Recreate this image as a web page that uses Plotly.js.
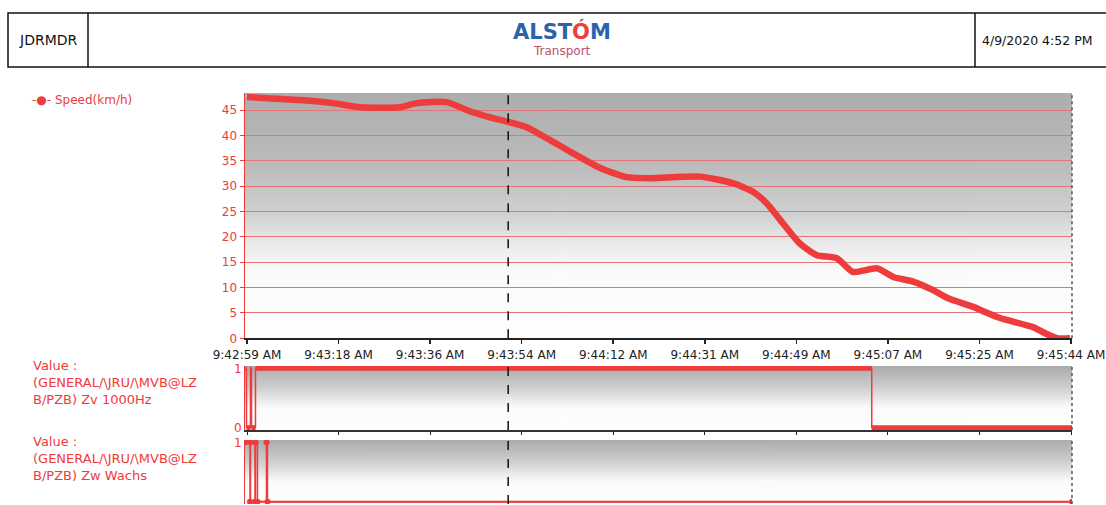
<!DOCTYPE html>
<html>
<head>
<meta charset="utf-8">
<script src="https://cdn.plot.ly/plotly-3.0.1.min.js"></script>
<style>html,body{margin:0;padding:0;background:#fff;}#chart{width:1106px;height:505px;}</style>
</head>
<body>
<div id="chart"></div>
<script>
// ---- data ----
const tickLabels = ["9:42:59 AM","9:43:18 AM","9:43:36 AM","9:43:54 AM","9:44:12 AM","9:44:31 AM","9:44:49 AM","9:45:07 AM","9:45:25 AM","9:45:44 AM"];
const spanSeconds = 165; // 9:42:59 -> 9:45:44
const speedTime = [0, 10.6, 17.2, 22.6, 30.6, 34.0, 40.0, 44.1, 48.7, 52.7, 56.1, 60.7, 65.3, 70.7, 76.1, 80.7, 90.7, 97.3, 101.3, 104.1, 107.3, 110.7, 114.1, 118.1, 121.3, 126.2, 129.4, 133.4, 137.4, 140.4, 145.4, 150.8, 157.4, 159.4, 162.2, 164.8];
const speedKmh = [47.6, 47.0, 46.4, 45.6, 45.6, 46.4, 46.6, 45.0, 43.6, 42.6, 41.6, 39.1, 36.5, 33.6, 31.8, 31.6, 31.9, 30.6, 28.9, 26.6, 22.7, 18.7, 16.4, 15.8, 13.1, 13.8, 12.1, 11.2, 9.5, 7.9, 6.2, 4.0, 2.2, 1.2, 0, 0];
const zvTime = [-0.3, -0.1, 0.7, 0.9, 1.7, 125.1, 165.2];
const zvValue = [1, 0, 1, 0, 1, 0, 0];
const zwTime = [-0.3, 0.6, 0.7, 1.6, 1.7, 2.1, 3.9, 4.1, 165.2];
const zwValue = [1, 0, 1, 0, 1, 0, 1, 0, 0];
const cursorTime = 52.3;
const speedTicks = [0, 5, 10, 15, 20, 25, 30, 35, 40, 45];
const speedName = "Speed(km/h)";
const zvName = "Value :<br>(GENERAL/\\JRU/\\MVB@LZ<br>B/PZB) Zv 1000Hz";
const zwName = "Value :<br>(GENERAL/\\JRU/\\MVB@LZ<br>B/PZB) Zw Wachs";

// ---- helpers ----
const W = 1106, H = 505;
const px = v => v / W;
const py = v => 1 - v / H;
const FONT = "'DejaVu Sans', 'Liberation Sans', sans-serif";
const RED = '#ee3b3b';

function gradientURL(stops) {
  const c = document.createElement('canvas');
  c.width = 4; c.height = 256;
  const g = c.getContext('2d');
  const gr = g.createLinearGradient(0, 0, 0, 256);
  stops.forEach(s => gr.addColorStop(s[0], s[1]));
  g.fillStyle = gr; g.fillRect(0, 0, 4, 256);
  return c.toDataURL();
}
function segments(t, v) {
  const x = [], y = [];
  for (let i = 0; i < t.length - 1; i++) {
    x.push(t[i], t[i + 1], null); y.push(v[i], v[i], null);
  }
  return {x, y};
}

const xDom = [px(245), px(1072)];
const xRange = [-0.4, 165.2];
const tickVals = tickLabels.map((_, i) => i * spanSeconds / (tickLabels.length - 1));

const zvSeg = segments(zvTime, zvValue);
const zwSeg = segments(zwTime, zwValue);

const traces = [
  {x: speedTime, y: speedKmh, xaxis: 'x', yaxis: 'y', mode: 'lines', name: speedName,
   line: {color: RED, width: 6.5, shape: 'spline', smoothing: 0.6}, showlegend: false, hoverinfo: 'skip'},
  {x: zvTime, y: zvValue, xaxis: 'x2', yaxis: 'y2', mode: 'lines', line: {color: RED, width: 1.5, shape: 'hv'}, showlegend: false},
  {x: zvSeg.x, y: zvSeg.y, xaxis: 'x2', yaxis: 'y2', mode: 'lines', line: {color: RED, width: 5}, showlegend: false},
  {x: zwTime, y: zwValue, xaxis: 'x3', yaxis: 'y3', mode: 'lines+markers', line: {color: RED, width: 1.5, shape: 'hv'},
   marker: {color: RED, size: 6}, showlegend: false},
  {x: zwSeg.x, y: zwSeg.y, xaxis: 'x3', yaxis: 'y3', mode: 'lines', line: {color: RED, width: 2}, showlegend: false}
];

const mainGrad = gradientURL([[0, '#adadad'], [0.3, '#bcbcbc'], [0.5, '#d2d2d2'], [0.62, '#ebebeb'], [0.73, '#fbfbfb'], [1, '#ffffff']]);
const subGrad = gradientURL([[0, '#ababab'], [0.35, '#d0d0d0'], [0.65, '#fbfbfb'], [1, '#ffffff']]);

const yDom1 = [py(338.3), py(93)];
const yDom2 = [py(430), py(366)];
const yDom3 = [py(504), py(440)];

const redTickFont = {family: FONT, size: 12, color: RED};

const layout = {
  width: W, height: H,
  margin: {l: 0, r: 0, t: 0, b: 0},
  paper_bgcolor: '#ffffff',
  plot_bgcolor: 'rgba(0,0,0,0)',
  font: {family: FONT, size: 12, color: '#222'},
  showlegend: false,
  xaxis: {domain: xDom, anchor: 'y', range: xRange, tickmode: 'array', tickvals: tickVals, ticktext: tickLabels,
          ticks: 'outside', ticklen: 4, tickcolor: '#222', tickwidth: 1.5, showline: true, linecolor: '#222', linewidth: 2,
          showgrid: false, zeroline: false, tickfont: {family: FONT, size: 12, color: '#222'}},
  yaxis: {domain: yDom1, anchor: 'x', range: [0, 48.4], tickmode: 'array', tickvals: speedTicks,
          ticks: 'outside', ticklen: 4, tickcolor: RED, showline: true, linecolor: RED, linewidth: 1.5,
          showgrid: true, gridcolor: '#e47478', gridwidth: 1, zeroline: false, tickfont: redTickFont},
  xaxis2: {domain: xDom, anchor: 'y2', matches: 'x', range: xRange, tickmode: 'array', tickvals: tickVals, showticklabels: false,
           ticks: 'outside', ticklen: 3, tickcolor: '#222', showline: true, linecolor: '#333', linewidth: 1.5,
           showgrid: false, zeroline: false},
  yaxis2: {domain: yDom2, anchor: 'x2', range: [-0.04, 1.04], tickmode: 'array', tickvals: [0, 1],
           ticks: '', showline: true, linecolor: RED, linewidth: 1, showgrid: false, zeroline: false, tickfont: redTickFont},
  xaxis3: {domain: xDom, anchor: 'y3', matches: 'x', range: xRange, showticklabels: false, ticks: '',
           showline: false, showgrid: false, zeroline: false},
  yaxis3: {domain: yDom3, anchor: 'x3', range: [-0.04, 1.04], tickmode: 'array', tickvals: [0, 1],
           ticks: '', showline: true, linecolor: RED, linewidth: 1, showgrid: false, zeroline: false, tickfont: redTickFont},
  images: [
    {source: mainGrad, xref: 'paper', yref: 'paper', x: xDom[0], y: yDom1[1], sizex: xDom[1] - xDom[0], sizey: yDom1[1] - yDom1[0],
     sizing: 'stretch', layer: 'below', xanchor: 'left', yanchor: 'top'},
    {source: subGrad, xref: 'paper', yref: 'paper', x: xDom[0], y: yDom2[1], sizex: xDom[1] - xDom[0], sizey: yDom2[1] - yDom2[0],
     sizing: 'stretch', layer: 'below', xanchor: 'left', yanchor: 'top'},
    {source: subGrad, xref: 'paper', yref: 'paper', x: xDom[0], y: yDom3[1], sizex: xDom[1] - xDom[0], sizey: yDom3[1] - yDom3[0],
     sizing: 'stretch', layer: 'below', xanchor: 'left', yanchor: 'top'}
  ],
  shapes: [
    // header box
    {type: 'rect', xref: 'paper', yref: 'paper', x0: px(8), x1: 1.02, y0: py(67), y1: py(13), line: {color: '#111', width: 1.5}},
    {type: 'line', xref: 'paper', yref: 'paper', x0: px(88), x1: px(88), y0: py(67), y1: py(13), line: {color: '#111', width: 1.5}},
    {type: 'line', xref: 'paper', yref: 'paper', x0: px(975), x1: px(975), y0: py(67), y1: py(13), line: {color: '#111', width: 1.5}},
    // right dotted edges
    {type: 'line', xref: 'x domain', yref: 'y domain', x0: 1, x1: 1, y0: 0, y1: 1, line: {color: '#555', width: 1.5, dash: 'dot'}},
    {type: 'line', xref: 'x2 domain', yref: 'y2 domain', x0: 1, x1: 1, y0: 0, y1: 1, line: {color: '#555', width: 1.5, dash: 'dot'}},
    {type: 'line', xref: 'x3 domain', yref: 'y3 domain', x0: 1, x1: 1, y0: 0, y1: 1, line: {color: '#555', width: 1.5, dash: 'dot'}},
    // cursor
    {type: 'line', xref: 'x', yref: 'y domain', x0: cursorTime, x1: cursorTime, y0: 0, y1: 1, line: {color: '#111', width: 1.5, dash: 'dash'}},
    {type: 'line', xref: 'x2', yref: 'y2 domain', x0: cursorTime, x1: cursorTime, y0: 0, y1: 1, line: {color: '#111', width: 1.5, dash: 'dash'}},
    {type: 'line', xref: 'x3', yref: 'y3 domain', x0: cursorTime, x1: cursorTime, y0: 0, y1: 1, line: {color: '#111', width: 1.5, dash: 'dash'}}
  ],
  annotations: [
    {text: 'JDRMDR', xref: 'paper', yref: 'paper', x: px(48), y: py(40), showarrow: false, xanchor: 'center', yanchor: 'middle',
     font: {family: FONT, size: 14, color: '#111'}},
    {text: "<b>ALST<span style='color:#e8423c'>Ó</span>M</b>", xref: 'paper', yref: 'paper', x: px(562), y: py(31), showarrow: false,
     xanchor: 'center', yanchor: 'middle', font: {family: FONT, size: 21, color: '#2c62ad'}},
    {text: 'Transport', xref: 'paper', yref: 'paper', x: px(562), y: py(51), showarrow: false, xanchor: 'center', yanchor: 'middle',
     font: {family: FONT, size: 12, color: '#b8506e'}},
    {text: '4/9/2020 4:52 PM', xref: 'paper', yref: 'paper', x: px(980), y: py(41), showarrow: false, xanchor: 'left', yanchor: 'middle',
     font: {family: FONT, size: 12.5, color: '#111'}},
    {text: '-●- ' + speedName, xref: 'paper', yref: 'paper', x: px(30), y: py(100), showarrow: false, xanchor: 'left', yanchor: 'middle',
     font: {family: FONT, size: 12, color: RED}},
    {text: zvName, xref: 'paper', yref: 'paper', x: px(31), y: py(356), showarrow: false, xanchor: 'left', yanchor: 'top', align: 'left',
     font: {family: FONT, size: 13, color: RED}},
    {text: zwName, xref: 'paper', yref: 'paper', x: px(31), y: py(432), showarrow: false, xanchor: 'left', yanchor: 'top', align: 'left',
     font: {family: FONT, size: 13, color: RED}}
  ]
};

Plotly.newPlot('chart', traces, layout, {staticPlot: true, displayModeBar: false});
</script>
</body>
</html>
